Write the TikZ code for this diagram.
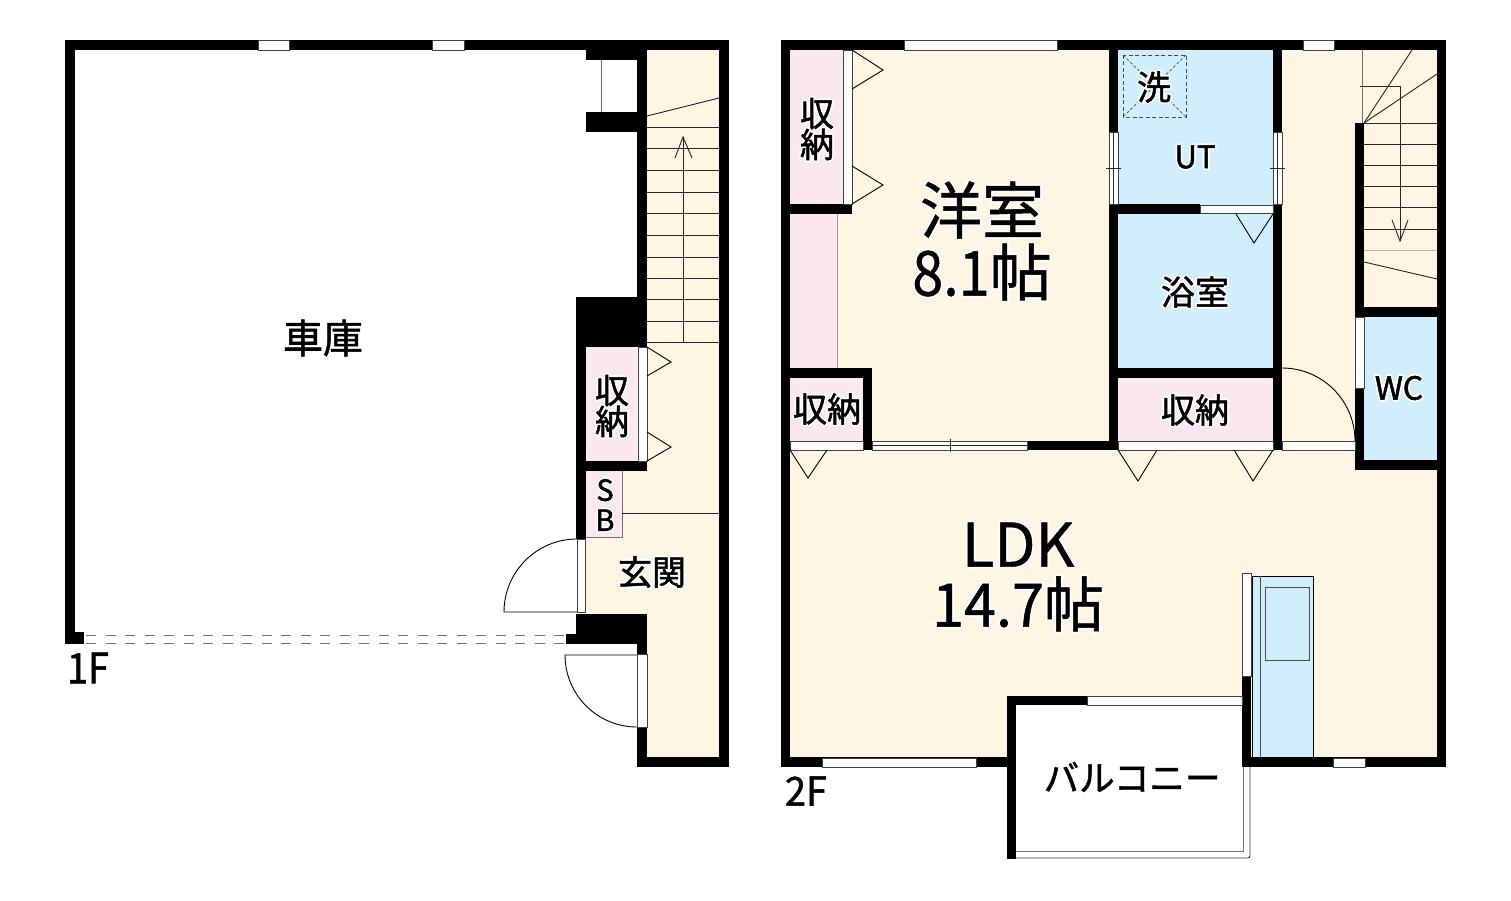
\documentclass[tikz,border=0pt]{standalone}
\usepackage{fontspec}
\setmainfont{Noto Sans CJK JP}
\definecolor{cream}{HTML}{FEF5E2}
\definecolor{pinkroom}{HTML}{FBE7F0}
\definecolor{blueroom}{HTML}{D0EEFC}
\newcommand\heavytext[1]{\special{pdf:code q 2 Tr .5 w 0 0 0 RG}#1\special{pdf:code Q}}
\newcommand\halotext[1]{\leavevmode\rlap{\special{pdf:code q 2 Tr 4 w 1 j 1 1 1 RG 1 1 1 rg}#1\special{pdf:code Q}}\heavytext{#1}}
\newcommand\fsz[1]{\fontsize{#1pt}{#1pt}\selectfont}
\newcommand\narrowed[2]{{\addfontfeature{FakeStretch=#1}#2}}
\tikzset{
  wall/.style={fill=black},
  strip/.style={fill=white,draw=black!75,line width=.7pt},
  thinline/.style={draw=black!85,line width=.9pt},
  grayline/.style={draw=black!55,line width=1pt},
  swing/.style={draw=black,line width=.9pt},
  label/.style={inner sep=0pt,outer sep=0pt,align=center,text=black},
}
\begin{document}
\begin{tikzpicture}[x=1pt,y=-1pt]
\useasboundingbox (0,0) rectangle (1511,901);
% ---------- floors
\fill[cream] (647,50)--(719,50)--(719,757)--(647,757)--(647,614)--(586,614)--(586,471)--(647,471)--cycle;
\fill[pinkroom] (586,347) rectangle (637,461);
\fill[pinkroom] (586,471) rectangle (622,537);
\draw[grayline,line width=.8pt] (622,471)--(622,537)--(586,537);
\fill[cream] (790,50) rectangle (1437,757);
\fill[white] (1016,705) rectangle (1243,757);
\fill[pinkroom] (790,50) rectangle (843,204);
\fill[pinkroom] (790,214) rectangle (837,368);
\fill[pinkroom] (790,378) rectangle (863,441);
\fill[pinkroom] (1118,378) rectangle (1273,441);
\fill[blueroom] (1118,50) rectangle (1273,368);
\fill[blueroom] (1364,317) rectangle (1437,460);
\draw[grayline,draw=black!40] (837,214)--(837,368);
% ---------- 1F stairs
\foreach \y in {127,148,170,192,213,235,257,278,299,321,342}
  \draw[thinline] (647,\y)--(719,\y);
\draw[thinline] (647,116)--(719,98);
\draw[thinline] (683,342)--(683,137);
\draw[thinline] (675,158)--(683,137)--(692,158);
\draw[thinline] (622,513)--(719,513);
% ---------- 1F walls
\fill[wall] (65,40) rectangle (729,50);
\fill[wall] (65,40) rectangle (75,644);
\fill[wall] (65,632) rectangle (84,644);
\fill[wall] (719,40) rectangle (729,767);
\fill[wall] (637,40) rectangle (647,347);
\fill[wall] (586,40) rectangle (647,60);
\fill[wall] (586,112) rectangle (647,132);
\fill[wall] (576,297) rectangle (647,347);
\fill[wall] (576,297) rectangle (586,539);
\fill[wall] (576,461) rectangle (647,471);
\fill[wall] (576,614) rectangle (647,644);
\fill[wall] (566,634) rectangle (576,644);
\fill[wall] (637,644) rectangle (647,654);
\fill[wall] (637,727) rectangle (647,767);
\fill[wall] (637,757) rectangle (729,767);
\draw[thinline,draw=black!60] (601,60)--(601,112);
% 1F openings
\draw[strip] (258,40) rectangle (289,50);
\draw[strip] (432,40) rectangle (464,50);
\draw[strip] (638,347) rectangle (647,461);
\draw[swing] (647,347)--(671,362)--(647,376);
\draw[swing] (647,432)--(671,447)--(647,461);
\draw[strip] (577,539) rectangle (585,612);
\draw[swing] (577,539) arc (-90:-180:73)--(577,612);
\draw[strip] (637,654) rectangle (647,727);
\draw[swing] (637,727) arc (90:180:72)--(637,655);
\draw[grayline,dash pattern=on 10pt off 9.5pt] (86,635)--(566,635);
\draw[grayline,dash pattern=on 10pt off 9.5pt] (86,643)--(566,643);
% ---------- 2F kitchen
\draw[draw=black,line width=.9pt,fill=blueroom] (1252,576) rectangle (1313,757);
\draw[draw=black!70,line width=.9pt] (1260,576)--(1260,757);
\draw[draw=black!70,line width=1pt] (1265,587) rectangle (1309,660);
% ---------- 2F stairs
\foreach \y in {123,144,165,186,207,229}
  \draw[thinline] (1364,\y)--(1437,\y);
\draw[grayline,draw=black!30] (1364,250)--(1437,250);
\draw[thinline] (1364,262)--(1437,279);
\draw[thinline] (1364,123)--(1412,50);
\draw[thinline] (1364,123)--(1437,74);
\draw[grayline] (1362,50)--(1362,123);
\draw[thinline] (1360,86)--(1400,86)--(1400,241);
\draw[thinline] (1392,220)--(1400,241)--(1408,220);
% ---------- washer pan
\draw[draw=black!70,line width=.8pt,dash pattern=on 4pt off 2.5pt] (1123,55) rectangle (1186,117);
\draw[draw=black!70,line width=.7pt,dash pattern=on 3pt off 2pt] (1123,55)--(1186,117) (1186,55)--(1123,117);
% ---------- 2F walls
\fill[wall] (781,40) rectangle (1446,50);
\fill[wall] (781,40) rectangle (790,767);
\fill[wall] (1437,40) rectangle (1446,767);
\fill[wall] (781,204) rectangle (852,214);
\fill[wall] (781,368) rectangle (872,378);
\fill[wall] (863,368) rectangle (872,450);
\fill[wall] (1027,441) rectangle (1118,450);
\fill[wall] (1109,40) rectangle (1118,450);
\fill[wall] (1273,40) rectangle (1282,450);
\fill[wall] (1109,204) rectangle (1200,214);
\fill[wall] (1109,368) rectangle (1282,378);
\fill[wall] (1355,123) rectangle (1364,470);
\fill[wall] (1355,307) rectangle (1446,317);
\fill[wall] (1355,460) rectangle (1446,470);
\fill[wall] (781,757) rectangle (1016,767);
\fill[wall] (1242,757) rectangle (1446,767);
\fill[wall] (1242,676) rectangle (1251,767);
\fill[wall] (1007,696) rectangle (1087,705);
\fill[wall] (1007,696) rectangle (1016,859);
% 2F openings
\draw[strip] (904,40) rectangle (1057,50);
\draw[strip] (1303,40) rectangle (1334,50);
\draw[strip] (822,758) rectangle (976,767);
\draw[strip] (1333,758) rectangle (1365,767);
\draw[strip] (843,50) rectangle (852,204);
\draw[swing] (852,50)--(883,70)--(852,89);
\draw[swing] (852,166)--(883,185)--(852,204);
\draw[strip] (790,441) rectangle (863,450);
\draw[swing] (790,450)--(808,478)--(827,450);
\draw[strip] (872,441) rectangle (1027,450);
\draw[thinline,line width=.6pt] (872,445.5)--(1027,445.5);
\draw[thinline] (950,439)--(950,452);
\draw[strip] (1109,132) rectangle (1118,204);
\draw[thinline,line width=.6pt] (1113.5,132)--(1113.5,204);
\draw[thinline] (1106,168)--(1121,168);
\draw[strip] (1273,132) rectangle (1282,204);
\draw[thinline,line width=.6pt] (1277.5,132)--(1277.5,204);
\draw[thinline] (1270,168)--(1285,168);
\draw[strip] (1200,205) rectangle (1273,213);
\draw[swing] (1236,214)--(1254,243)--(1273,214);
\draw[strip] (1118,441) rectangle (1273,450);
\draw[swing] (1118,450)--(1138,481)--(1157,450);
\draw[swing] (1234,450)--(1253,481)--(1273,450);
\draw[strip] (1282,441) rectangle (1355,450);
\draw[swing] (1282,368) arc (-90:0:73);
\draw[strip] (1355,317) rectangle (1364,388);
\draw[strip] (1242,573) rectangle (1251,676);
\draw[strip] (1087,696) rectangle (1242,705);
% balcony rail
\draw[grayline] (1016,851)--(1243,851)--(1243,767);
\draw[draw=black!80,line width=.9pt,rounded corners=2.5pt] (1016,858)--(1250,858)--(1250,767);
% ---------- labels
\node[label,font=\fsz{40}] (garage) at (323,338) {\halotext{車庫}};
\node[label,font=\fsz{34}] (entry) at (652,572) {\halotext{玄関}};
\node[label,font=\fsz{34},align=center] (store1) at (612,406) {\halotext{収}\\[-3pt]\halotext{納}};
\node[label,font=\fsz{29},align=center] (sb) at (605,505) {\halotext{S}\\[1pt]\halotext{B}};
\node[label,font=\fsz{42}] (oneF) at (88,668) {\heavytext{\narrowed{.9}{1F}}};
\node[label,font=\fsz{62},align=center] (western) at (982,241) {\halotext{洋室}\\\halotext{\narrowed{.9}{8.1}帖}};
\node[label,font=\fsz{60},align=center] (ldk) at (1018,577) {\halotext{LDK}\\\halotext{\narrowed{.96}{14.7}帖}};
\node[label,font=\fsz{34},align=center] (store2) at (817,129) {\halotext{収}\\[-3pt]\halotext{納}};
\node[label,font=\fsz{34}] (store3) at (827,409) {\halotext{収納}};
\node[label,font=\fsz{34}] (wash) at (1154,87) {\halotext{洗}};
\node[label,font=\fsz{31}] (ut) at (1195,157) {\halotext{UT}};
\node[label,font=\fsz{34}] (bath) at (1195,292) {\halotext{浴室}};
\node[label,font=\fsz{34}] (store4) at (1195,410) {\halotext{収納}};
\node[label,font=\fsz{32}] (wc) at (1399,388) {\halotext{WC}};
\node[label,font=\fsz{35.5}] (balcony) at (1132,777) {\heavytext{バルコニー}};
\node[label,font=\fsz{40}] (twoF) at (806,791) {\heavytext{\narrowed{.95}{2F}}};
\end{tikzpicture}
\end{document}
